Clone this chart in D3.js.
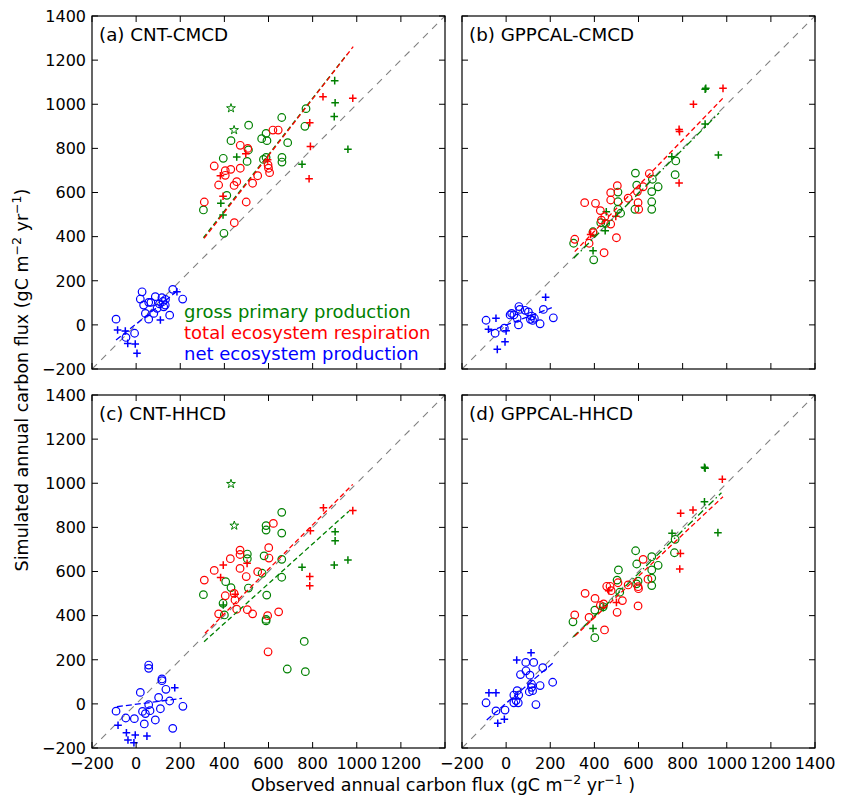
<!DOCTYPE html>
<html><head><meta charset="utf-8">
<script src="https://cdn.jsdelivr.net/npm/d3@7"></script>
<style>body{margin:0;background:#fff}svg{display:block;font-family:"DejaVu Sans",sans-serif}</style>
</head><body><svg id="c" width="842" height="796"></svg>
<script>
// ---- tick values ----
const ticks = [-200,0,200,400,600,800,1000,1200,1400];
const panelTitles = ["(a) CNT-CMCD","(b) GPPCAL-CMCD","(c) CNT-HHCD","(d) GPPCAL-HHCD"];
const legendLabels = ["gross primary production","total ecosystem respiration","net ecosystem production"];
// ---- panel (a) ----
const gppCircA = [[770,980],[765,900],[660,940],[510,905],[589,868],[569,844],[593,835],[687,826],[430,835],[509,793],[503,741],[577,750],[589,759],[661,759],[661,738],[395,755],[411,587],[305,521],[398,415]];
const gppPlusA = [[900,1107],[902,1007],[898,944],[960,796],[752,728],[456,761],[384,551],[394,498]];
const gppStarA = [[430,982],[444,883]];
const terCircA = [[620,883],[644,883],[472,814],[506,800],[354,720],[404,699],[429,705],[472,710],[404,678],[374,634],[456,649],[444,632],[528,642],[551,676],[600,710],[605,690],[598,725],[309,557],[499,557],[445,463]];
const terPlusA = [[847,1034],[982,1027],[787,916],[790,809],[784,662],[497,776],[382,676],[394,583],[596,748]];
const nepCircA = [[27,150],[19,117],[57,102],[87,128],[117,123],[34,90],[67,102],[106,95],[122,106],[133,115],[166,161],[211,117],[42,52],[57,26],[152,44],[-91,26],[-46,-57],[-7,-38],[95,75],[80,52],[125,82],[132,90]];
const nepPlusA = [[-84,-23],[-49,-28],[-38,-84],[-4,-87],[4,-129],[110,22],[185,150]];
const gppLineA = [[305,395],[955,1225]];
const terLineA = [[308,392],[984,1261]];
const nepLineA = [[-91,-69],[196,161]];
// ---- panel (b) ----
const gppCircB = [[586,688],[663,660],[689,626],[660,604],[660,558],[660,524],[584,524],[592,633],[507,602],[507,558],[507,524],[519,506],[429,463],[394,422],[306,370],[397,295],[769,743],[766,681],[451,460]];
const gppPlusB = [[902,1068],[905,1072],[902,910],[962,770],[751,762],[454,513],[394,336],[449,427]];
const terCircB = [[649,686],[621,626],[595,604],[598,554],[601,524],[504,631],[474,599],[474,566],[553,574],[405,551],[356,554],[427,518],[447,490],[432,475],[474,457],[394,418],[376,370],[311,388],[500,395],[444,327]];
const terPlusB = [[983,1072],[849,1000],[784,886],[786,876],[784,643],[497,492],[383,410]];
const nepCircB = [[-91,21],[-50,-38],[-8,-15],[25,52],[18,45],[35,45],[58,83],[62,70],[56,0],[86,66],[101,59],[115,40],[110,25],[128,30],[120,20],[169,70],[154,5],[214,32],[50,30]];
const nepPlusB = [[-46,30],[-80,-20],[0,-27],[-5,-77],[-40,-111],[179,125]];
const gppLineB = [[306,302],[965,960]];
const terLineB = [[311,332],[986,1031]];
const nepLineB = [[-80,-31],[207,78]];
// ---- panel (c) ----
const gppCircC = [[660,868],[589,808],[589,788],[660,774],[504,679],[504,658],[580,671],[660,655],[660,574],[571,592],[509,525],[305,495],[406,554],[430,527],[592,493],[394,456],[400,403],[589,383],[589,376],[762,283],[685,158],[767,146]];
const gppPlusC = [[902,780],[902,739],[898,629],[960,652],[752,619],[395,448]];
const gppStarC = [[430,997],[445,808]];
const terCircC = [[622,818],[471,697],[471,677],[427,658],[471,614],[601,708],[602,661],[354,605],[309,561],[551,599],[499,577],[404,490],[444,501],[448,471],[456,429],[374,408],[504,427],[528,408],[596,400],[646,417],[598,236]];
const terPlusC = [[849,889],[982,876],[790,785],[787,577],[787,535],[395,629],[383,573],[503,637],[449,497]];
const nepCircC = [[57,176],[57,161],[117,113],[117,105],[135,66],[19,52],[102,29],[152,13],[212,-11],[57,-4],[29,-34],[42,-44],[63,-31],[110,-22],[87,-73],[-91,-33],[-47,-64],[-8,-67],[37,-91],[166,-111]];
const nepPlusC = [[175,73],[-82,-97],[-44,-131],[-37,-164],[-4,-141],[-10,-176],[49,-146]];
const gppLineC = [[308,282],[964,873]];
const terLineC = [[312,320],[982,995]];
const nepLineC = [[-87,-13],[208,25]];
// ---- panel (d) ----
const gppCircD = [[587,694],[660,667],[689,628],[660,607],[592,634],[509,607],[503,561],[515,506],[598,556],[591,544],[660,570],[660,536],[766,746],[763,685],[402,425],[303,372],[402,300],[440,440]];
const gppPlusD = [[899,1072],[902,1068],[899,916],[960,776],[752,773],[394,342],[440,436]];
const terCircD = [[621,655],[643,565],[598,531],[600,522],[598,444],[553,539],[471,533],[456,533],[476,513],[507,549],[527,468],[503,415],[358,501],[403,478],[427,446],[442,453],[311,403],[376,392],[446,335]];
const terPlusD = [[980,1018],[847,879],[791,864],[790,682],[787,611],[465,513],[500,460]];
const nepCircD = [[89,188],[125,188],[90,150],[65,133],[108,130],[166,164],[211,98],[154,83],[115,90],[115,75],[105,55],[120,60],[50,60],[57,40],[35,40],[45,15],[55,5],[35,5],[135,-3],[-91,5],[-46,-32],[-5,-28]];
const nepPlusD = [[113,232],[48,199],[-78,50],[-46,50],[-38,-88],[-8,-70]];
const gppLineD = [[305,304],[976,957]];
const terLineD = [[311,307],[983,939]];
const nepLineD = [[-88,-73],[214,187]];

const GREEN="#008000", RED="#ff0000", BLUE="#0000ff";
const svg = d3.select("#c");
const W = 353, H = 353;
const panels = [
  {x0:92, y0:16, title:panelTitles[0], xl:false, yl:true, legend:true,
   gc:gppCircA, gp:gppPlusA, gs:gppStarA, tc:terCircA, tp:terPlusA, nc:nepCircA, np:nepPlusA, gl:gppLineA, tl:terLineA, nl:nepLineA, gdash:"5,3"},
  {x0:462, y0:16, title:panelTitles[1], xl:false, yl:false,
   gc:gppCircB, gp:gppPlusB, gs:[], tc:terCircB, tp:terPlusB, nc:nepCircB, np:nepPlusB, gl:gppLineB, tl:terLineB, nl:nepLineB, gdash:"7,3,1.5,3"},
  {x0:92, y0:395, title:panelTitles[2], xl:true, yl:true, xmax:1200,
   gc:gppCircC, gp:gppPlusC, gs:gppStarC, tc:terCircC, tp:terPlusC, nc:nepCircC, np:nepPlusC, gl:gppLineC, tl:terLineC, nl:nepLineC, gdash:"5,3"},
  {x0:462, y0:395, title:panelTitles[3], xl:true, yl:false,
   gc:gppCircD, gp:gppPlusD, gs:[], tc:terCircD, tp:terPlusD, nc:nepCircD, np:nepPlusD, gl:gppLineD, tl:terLineD, nl:nepLineD, gdash:"7,3,1.5,3"}
];
const fmt = v => v < 0 ? "\u2212" + Math.abs(v) : String(v);

panels.forEach(p => {
  const x = d3.scaleLinear().domain([-200,1400]).range([p.x0, p.x0+W]);
  const y = d3.scaleLinear().domain([-200,1400]).range([p.y0+H, p.y0]);
  const g = svg.append("g");
  // 1:1 line
  g.append("line").attr("x1",x(-200)).attr("y1",y(-200)).attr("x2",x(1400)).attr("y2",y(1400))
    .attr("stroke","#808080").attr("stroke-width",1.1).attr("stroke-dasharray","7,6");
  const line = d3.line().x(d=>x(d[0])).y(d=>y(d[1]));
  const circles = (data,col) => g.selectAll(null).data(data).enter().append("circle")
    .attr("cx",d=>x(d[0])).attr("cy",d=>y(d[1])).attr("r",3.8)
    .attr("fill","none").attr("stroke",col).attr("stroke-width",1.2);
  const plus = (data,col) => g.selectAll(null).data(data).enter().append("path")
    .attr("d",d=>`M${x(d[0])-3.8},${y(d[1])}h7.6M${x(d[0])},${y(d[1])-3.8}v7.6`)
    .attr("stroke",col).attr("stroke-width",1.5).attr("fill","none");
  const stars = (data,col) => g.selectAll(null).data(data).enter().append("path")
    .attr("d",d3.symbol(d3.symbolStar,24)())
    .attr("transform",d=>`translate(${x(d[0])},${y(d[1])})`)
    .attr("fill","none").attr("stroke",col).attr("stroke-width",1);
  circles(p.gc,GREEN); plus(p.gp,GREEN); stars(p.gs,GREEN);
  circles(p.tc,RED); plus(p.tp,RED);
  circles(p.nc,BLUE); plus(p.np,BLUE);
  g.append("path").attr("d",line(p.gl)).attr("stroke",GREEN).attr("stroke-width",1.3).attr("fill","none").attr("stroke-dasharray",p.gdash);
  g.append("path").attr("d",line(p.tl)).attr("stroke",RED).attr("stroke-width",1.3).attr("fill","none").attr("stroke-dasharray","5,3");
  g.append("path").attr("d",line(p.nl)).attr("stroke",BLUE).attr("stroke-width",1.3).attr("fill","none").attr("stroke-dasharray","6,3");
  // frame
  g.append("rect").attr("x",p.x0).attr("y",p.y0).attr("width",W).attr("height",H)
    .attr("fill","none").attr("stroke","#000").attr("stroke-width",1.2);
  // ticks inward on all sides
  const tl = 6;
  ticks.forEach(t => {
    g.append("line").attr("x1",x(t)).attr("x2",x(t)).attr("y1",p.y0+H).attr("y2",p.y0+H-tl).attr("stroke","#000");
    g.append("line").attr("x1",x(t)).attr("x2",x(t)).attr("y1",p.y0).attr("y2",p.y0+tl).attr("stroke","#000");
    g.append("line").attr("y1",y(t)).attr("y2",y(t)).attr("x1",p.x0).attr("x2",p.x0+tl).attr("stroke","#000");
    g.append("line").attr("y1",y(t)).attr("y2",y(t)).attr("x1",p.x0+W).attr("x2",p.x0+W-tl).attr("stroke","#000");
  });
  if (p.yl) ticks.forEach(t => g.append("text").attr("x",p.x0-6).attr("y",y(t)).attr("dy","0.36em")
      .attr("text-anchor","end").attr("font-size",16).text(fmt(t)));
  if (p.xl) ticks.filter(t => t <= (p.xmax||1400)).forEach(t => g.append("text").attr("x",x(t)).attr("y",p.y0+H+21)
      .attr("text-anchor","middle").attr("font-size",16).text(fmt(t)));
  g.append("text").attr("x",p.x0+7).attr("y",p.y0+25).attr("font-size",18.3).text(p.title);
  if (p.legend) {
    [GREEN,RED,BLUE].forEach((c,i) => g.append("text").attr("x",184).attr("y",p.y0+302+i*21)
      .attr("font-size",18).attr("fill",c).text(legendLabels[i]));
  }
});
// axis titles
const xt = svg.append("text").attr("x",443).attr("y",791).attr("text-anchor","middle").attr("font-size",17.5);
xt.append("tspan").text("Observed annual carbon flux (gC m");
xt.append("tspan").attr("dy",-7).attr("font-size",12.5).text("\u22122");
xt.append("tspan").attr("dy",7).text(" yr");
xt.append("tspan").attr("dy",-7).attr("font-size",12.5).text("\u22121");
xt.append("tspan").attr("dy",7).text(" )");
const yt = svg.append("text").attr("transform","translate(28,380) rotate(-90)").attr("text-anchor","middle").attr("font-size",17.5);
yt.append("tspan").text("Simulated annual carbon flux (gC m");
yt.append("tspan").attr("dy",-7).attr("font-size",12.5).text("\u22122");
yt.append("tspan").attr("dy",7).text(" yr");
yt.append("tspan").attr("dy",-7).attr("font-size",12.5).text("\u22121");
yt.append("tspan").attr("dy",7).text(")");
</script></body></html>
